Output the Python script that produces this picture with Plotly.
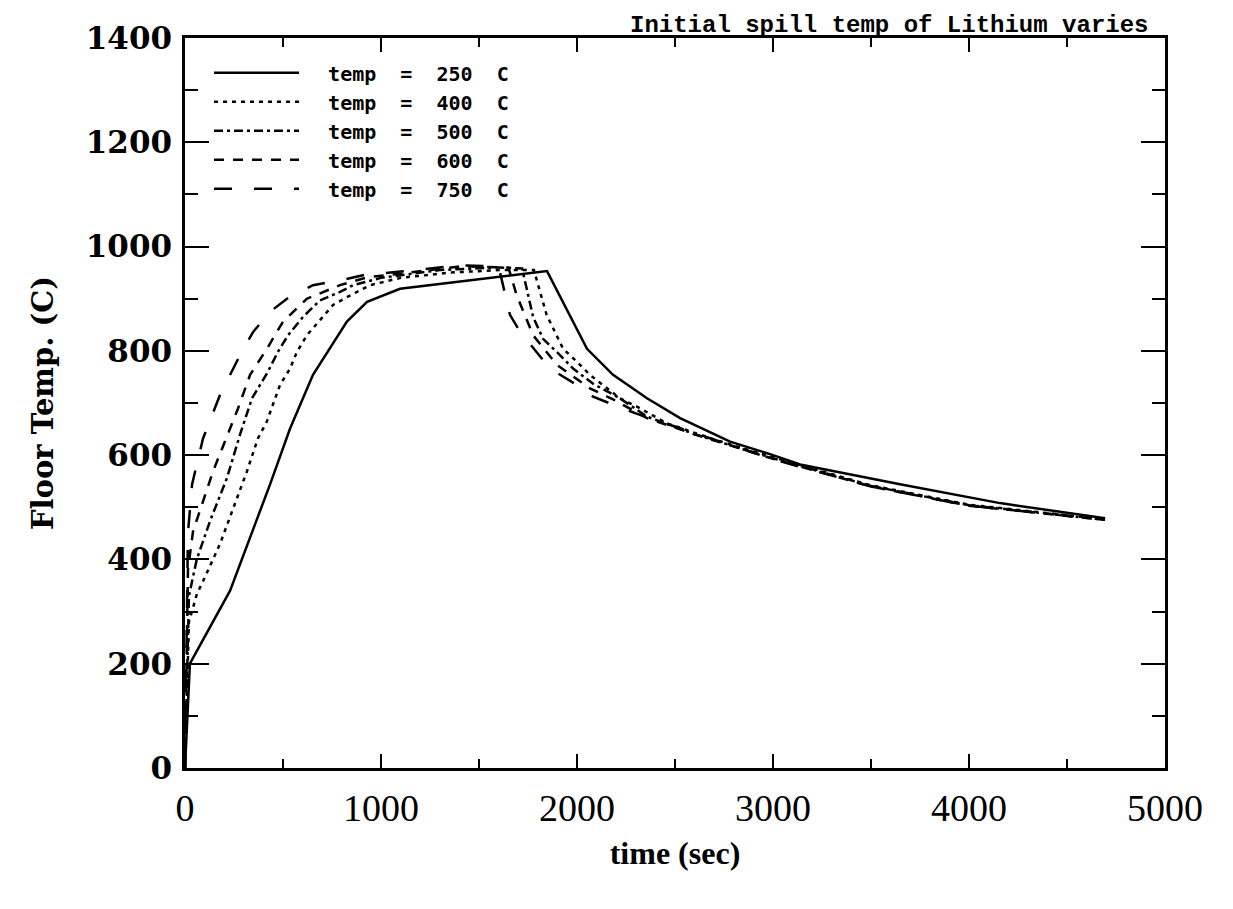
import plotly.graph_objects as go

# ---- data ----
t_250 = [0, 25, 230, 434, 536, 653, 826, 929, 1097, 1505, 1592, 1847, 2051, 2184, 2357, 2526, 2781, 3000, 3138, 3648, 4158, 4694]
T_250 = [0, 200, 340, 544, 651, 754, 856, 894, 919, 938, 941, 953, 804, 754, 709, 671, 626, 600, 582, 544, 508, 479]

t_400 = [0, 20, 61, 93, 179, 245, 316, 372, 418, 485, 536, 571, 622, 689, 755, 826, 944, 1100, 1350, 1600, 1780, 1845, 1878, 1929, 2000, 2066, 2219, 2306, 2459, 2700, 3000, 3500, 4000, 4694]
T_400 = [0, 280, 334, 359, 430, 498, 569, 632, 665, 735, 766, 798, 830, 859, 888, 903, 926, 940, 950, 955, 955, 869, 843, 804, 779, 754, 709, 693, 661, 630, 596, 542, 505, 477]

t_500 = [0, 20, 60, 128, 214, 281, 342, 383, 423, 474, 526, 602, 689, 791, 857, 1000, 1300, 1600, 1720, 1776, 1827, 1913, 1980, 2082, 2219, 2357, 2600, 3000, 3500, 4000, 4694]
T_500 = [0, 330, 400, 474, 556, 640, 709, 735, 760, 798, 830, 865, 897, 913, 926, 940, 955, 960, 958, 865, 823, 792, 766, 737, 709, 674, 640, 594, 541, 504, 476]

t_600 = [0, 15, 41, 143, 230, 270, 332, 418, 500, 622, 791, 929, 1100, 1400, 1650, 1692, 1776, 1898, 2066, 2184, 2357, 2600, 3000, 3500, 4000, 4694]
T_600 = [0, 380, 454, 569, 651, 689, 754, 804, 856, 900, 926, 941, 948, 962, 960, 907, 830, 773, 728, 707, 671, 640, 593, 540, 503, 476]

t_750 = [0, 15, 36, 92, 179, 281, 347, 434, 520, 653, 791, 908, 1100, 1400, 1600, 1658, 1709, 1820, 1862, 2015, 2082, 2300, 2600, 3000, 3500, 4000, 4694]
T_750 = [0, 450, 544, 632, 716, 792, 836, 875, 900, 926, 935, 945, 952, 964, 962, 869, 837, 785, 766, 731, 712, 680, 642, 592, 540, 503, 476]

NB = "\u00a0"
labels = [NB * 2 + "temp" + NB * 2 + "=" + NB * 2 + v + NB * 2 + "C" for v in ["250", "400", "500", "600", "750"]]

x_ticks = [0, 1000, 2000, 3000, 4000, 5000]
y_ticks = [0, 200, 400, 600, 800, 1000, 1200, 1400]

series = [(t_250, T_250, "solid"),
          (t_400, T_400, "4px,5px"),
          (t_500, T_500, "9px,4px,3px,4px"),
          (t_600, T_600, "10px,9px"),
          (t_750, T_750, "18px,22px")]

fig = go.Figure()
for (tx, ty, dash), name in zip(series, labels):
    fig.add_trace(go.Scatter(x=tx, y=ty, mode="lines", name=name,
                             line=dict(color="black", width=2.5, dash=dash)))

fig.update_layout(
    width=1233, height=909,
    margin=dict(l=177, r=76, t=27, b=149),
    paper_bgcolor="white", plot_bgcolor="white",
    showlegend=True,
    legend=dict(x=0.0245, y=0.979, xanchor="left", yanchor="top",
                bgcolor="rgba(0,0,0,0)", borderwidth=0,
                font=dict(family="DejaVu Sans Mono", size=20, color="black", weight="bold"),
                tracegroupgap=0, itemwidth=85),
    annotations=[dict(text="Initial spill temp of Lithium varies",
                      xref="paper", yref="paper", x=0.985, y=1.0,
                      xanchor="right", yanchor="bottom", yshift=-3, showarrow=False,
                      font=dict(family="Liberation Mono", size=24, color="black", weight="bold"))],
)

fig.update_xaxes(
    range=[0, 5000], tickvals=x_ticks, ticktext=[str(v) for v in x_ticks],
    showline=True, linewidth=2.5, linecolor="black", mirror="allticks",
    ticks="inside", ticklen=14, tickwidth=2, tickcolor="black",
    minor=dict(dtick=500, ticks="inside", ticklen=9, tickwidth=2, tickcolor="black"),
    showgrid=False, zeroline=False,
    tickfont=dict(family="Liberation Serif", size=38, color="black"),
    ticklabelstandoff=5,
    title=dict(text="time (sec)", standoff=14,
               font=dict(family="Liberation Serif", size=32, color="black", weight="bold")),
)
fig.update_yaxes(
    range=[0, 1400], tickvals=y_ticks, ticktext=[str(v) for v in y_ticks],
    showline=True, linewidth=2.5, linecolor="black", mirror="allticks",
    ticks="inside", ticklen=24, tickwidth=2, tickcolor="black",
    minor=dict(dtick=100, ticks="inside", ticklen=13, tickwidth=2, tickcolor="black"),
    showgrid=False, zeroline=False,
    tickfont=dict(family="DejaVu Serif", size=31, color="black", weight="bold"),
    ticklabelstandoff=4,
    title=dict(text="Floor Temp. (C)", standoff=24,
               font=dict(family="DejaVu Serif", size=29, color="black", weight="bold")),
)

fig.write_html("out.html")
